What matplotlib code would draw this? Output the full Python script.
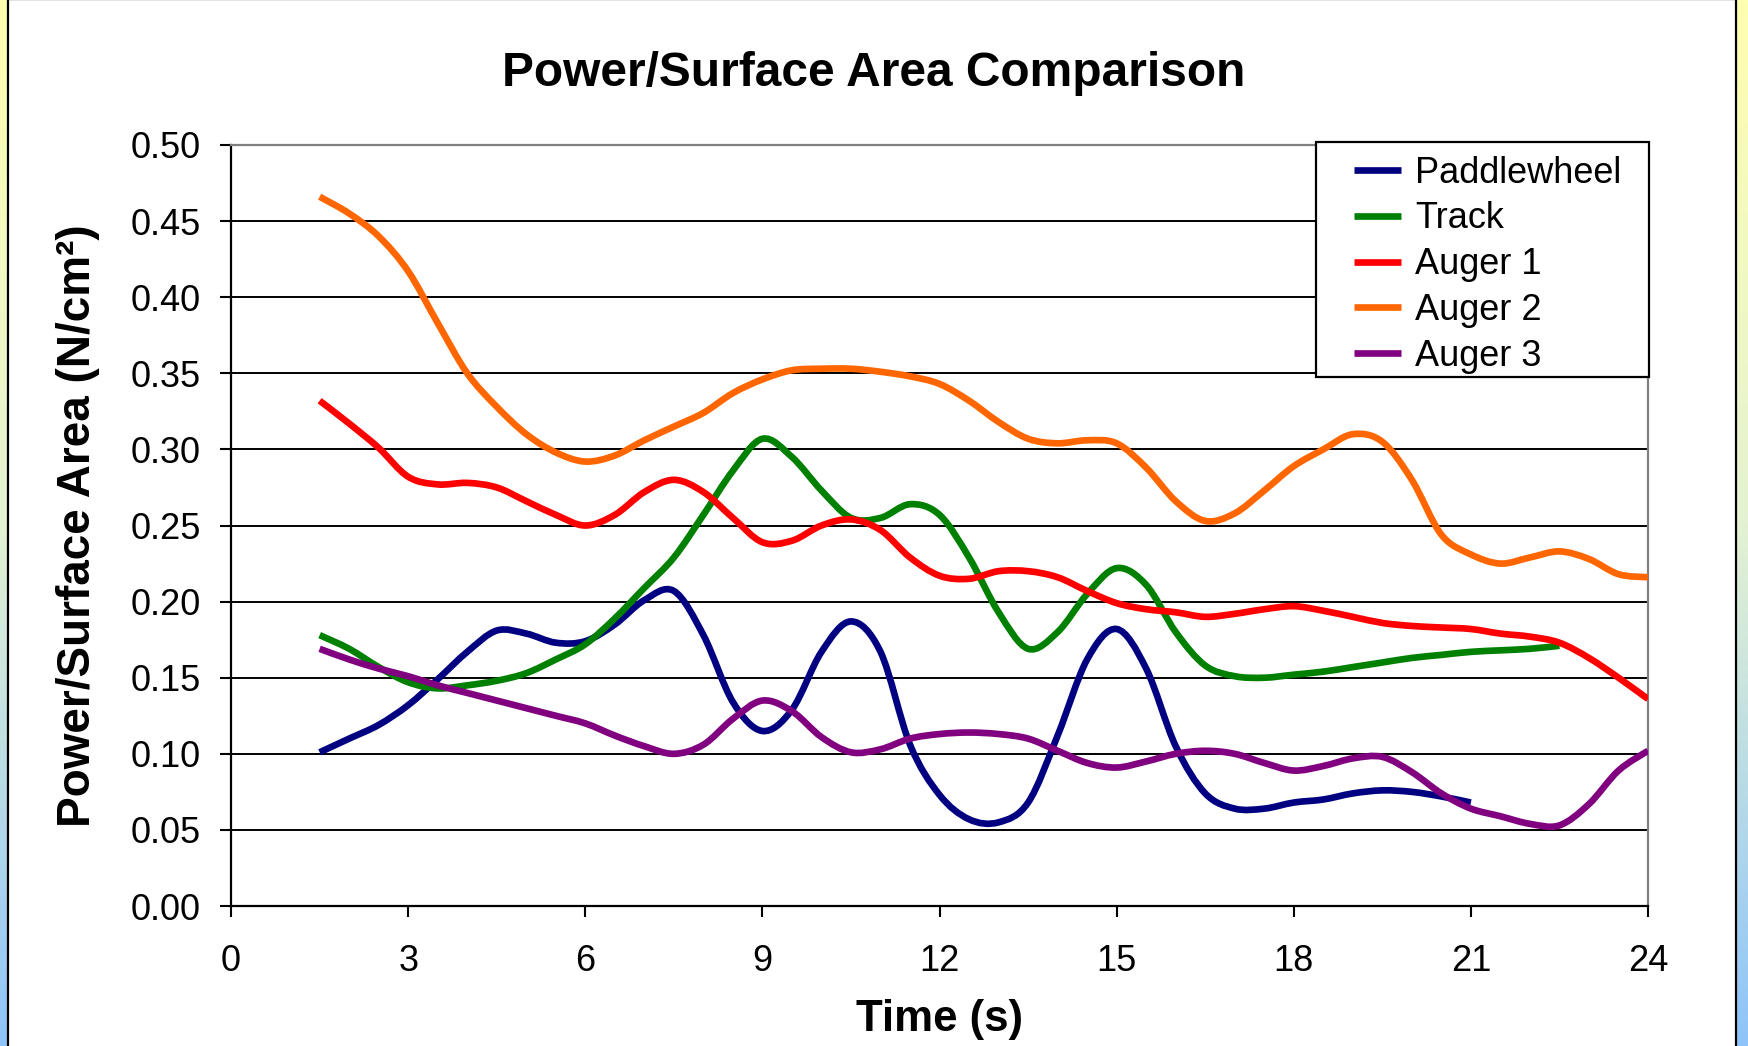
import numpy as np
import matplotlib.pyplot as plt
from matplotlib.patches import Rectangle, PathPatch
from matplotlib.path import Path
from matplotlib.lines import Line2D
from matplotlib.colors import LinearSegmentedColormap

plt.rcParams['font.family'] = ['Liberation Sans', 'DejaVu Sans']

# time samples (s)
t_half = [1.5, 2, 2.5, 3, 3.5, 4, 4.5, 5, 5.5, 6, 6.5, 7, 7.5, 8, 8.5, 9, 9.5, 10,
          10.5, 11, 11.5, 12, 12.5, 13, 13.5, 14, 14.5, 15, 15.5, 16, 16.5, 17,
          17.5, 18, 18.5, 19, 19.5, 20, 20.5, 21, 21.5, 22, 22.5, 23, 23.5, 24]

paddlewheel = [0.101, 0.110, 0.119, 0.132, 0.149, 0.167, 0.181, 0.179, 0.173, 0.174,
               0.185, 0.201, 0.207, 0.178, 0.134, 0.115, 0.129, 0.167, 0.187, 0.167,
               0.106, 0.073, 0.057, 0.055, 0.068, 0.112, 0.162, 0.182, 0.156, 0.105,
               0.074, 0.064, 0.064, 0.068, 0.070, 0.074, 0.076, 0.075, 0.072, 0.068]

track = [0.178, 0.169, 0.157, 0.147, 0.143, 0.145, 0.148, 0.153, 0.162, 0.172,
         0.189, 0.209, 0.229, 0.257, 0.286, 0.307, 0.295, 0.273, 0.255, 0.255,
         0.264, 0.257, 0.229, 0.193, 0.169, 0.180, 0.205, 0.222, 0.211, 0.180,
         0.158, 0.151, 0.150, 0.152, 0.154, 0.157, 0.160, 0.163, 0.165, 0.167,
         0.168, 0.169, 0.171]

auger1 = [0.332, 0.317, 0.301, 0.282, 0.277, 0.278, 0.275, 0.266, 0.257, 0.250,
          0.257, 0.272, 0.280, 0.272, 0.255, 0.239, 0.240, 0.250, 0.254, 0.247,
          0.229, 0.217, 0.215, 0.220, 0.220, 0.216, 0.207, 0.199, 0.195, 0.193,
          0.190, 0.192, 0.195, 0.197, 0.194, 0.190, 0.186, 0.184, 0.183, 0.182,
          0.179, 0.177, 0.173, 0.163, 0.150, 0.136]

auger2 = [0.466, 0.455, 0.440, 0.417, 0.383, 0.350, 0.328, 0.310, 0.298, 0.292,
          0.296, 0.306, 0.315, 0.324, 0.337, 0.346, 0.352, 0.353, 0.353, 0.351,
          0.348, 0.343, 0.332, 0.318, 0.307, 0.304, 0.306, 0.304, 0.288, 0.266,
          0.253, 0.258, 0.273, 0.289, 0.300, 0.310, 0.305, 0.280, 0.244, 0.231,
          0.225, 0.229, 0.233, 0.228, 0.218, 0.216]

auger3 = [0.169, 0.162, 0.156, 0.151, 0.145, 0.140, 0.135, 0.130, 0.125, 0.120,
          0.112, 0.105, 0.100, 0.106, 0.123, 0.135, 0.128, 0.111, 0.101, 0.103,
          0.110, 0.113, 0.114, 0.113, 0.110, 0.102, 0.094, 0.091, 0.095, 0.100,
          0.102, 0.100, 0.094, 0.089, 0.092, 0.097, 0.098, 0.088, 0.074, 0.064,
          0.059, 0.054, 0.053, 0.067, 0.089, 0.102]

series = [
    ('Paddlewheel', paddlewheel, '#000080'),
    ('Track', track, '#008000'),
    ('Auger 1', auger1, '#FF0000'),
    ('Auger 2', auger2, '#FF6600'),
    ('Auger 3', auger3, '#800080'),
]


def smooth_path(x, y):
    # Excel-style smoothed line: cubic Bezier segments through every point
    p = np.column_stack([x, y])
    ext = np.vstack([p[0], p, p[-1]])
    verts = [p[0]]
    codes = [Path.MOVETO]
    for i in range(len(p) - 1):
        c1 = ext[i + 1] + (ext[i + 2] - ext[i]) / 6.0
        c2 = ext[i + 2] - (ext[i + 3] - ext[i + 1]) / 6.0
        verts += [c1, c2, p[i + 1]]
        codes += [Path.CURVE4] * 3
    return Path(verts, codes)


fig = plt.figure(figsize=(17.48, 10.46), dpi=100)

# gradient frame behind the chart
bg = fig.add_axes([0, 0, 1, 1], zorder=-10)
grad = LinearSegmentedColormap.from_list('frame', ['#FFFFB0', '#E4F2D2', '#8EC4FA'])
bg.imshow(np.linspace(0, 1, 256).reshape(-1, 1), aspect='auto', cmap=grad,
          extent=[0, 1, 0, 1])
bg.set_axis_off()
bg.add_patch(Rectangle((0.0045, -0.05), 0.9888, 1.0505, transform=bg.transAxes,
                       facecolor='white', edgecolor='black', linewidth=1.6))

ax = fig.add_axes([0.1322, 0.1338, 0.8106, 0.7276])
ax.set_facecolor('white')

handles = []
for name, vals, col in series:
    path = smooth_path(t_half[:len(vals)], vals)
    ax.add_patch(PathPatch(path, facecolor='none', edgecolor=col, linewidth=4.8,
                           joinstyle='round', capstyle='butt', zorder=3))
    handles.append(Line2D([], [], color=col, linewidth=4.8, solid_capstyle='butt'))

ax.set_xlim(0, 24)
ax.set_ylim(0, 0.5)
ax.set_xticks(np.arange(0, 25, 3))
ax.set_yticks(np.arange(0, 0.501, 0.05))
ax.set_yticklabels([f'{v:.2f}' for v in np.arange(0, 0.501, 0.05)])
ax.tick_params(axis='both', labelsize=26, direction='out', length=8, width=1.5,
               color='black')
ax.tick_params(axis='y', pad=14)
ax.tick_params(axis='x', pad=19)

for y in np.arange(0.05, 0.46, 0.05):
    ax.axhline(y, color='black', linewidth=1.4, zorder=1)

ax.spines['left'].set_color('black')
ax.spines['left'].set_linewidth(1.6)
ax.spines['bottom'].set_color('black')
ax.spines['bottom'].set_linewidth(1.6)
ax.spines['top'].set_color('#808080')
ax.spines['top'].set_linewidth(1.6)
ax.spines['right'].set_color('#808080')
ax.spines['right'].set_linewidth(1.6)

# legend box drawn separately, entries placed inside it
ax.add_patch(Rectangle((0.766, 0.695), 0.2347, 0.309, transform=ax.transAxes,
                       facecolor='white', edgecolor='black', linewidth=1.6,
                       clip_on=False, zorder=5))
leg = ax.legend(handles, [s[0] for s in series], loc='upper left',
                bbox_to_anchor=(0.7925, 0.986), fontsize=26, frameon=False,
                handlelength=1.3, handletextpad=0.4, labelspacing=0.3,
                borderpad=0, borderaxespad=0)
leg.set_zorder(6)

fig.text(0.5, 0.9297, 'Power/Surface Area Comparison', ha='center', va='center',
         fontsize=34.5, fontweight='bold')
fig.text(0.5375, 0.0256, 'Time (s)', ha='center', va='center', fontsize=31.5,
         fontweight='bold')
fig.text(0.0445, 0.4976, 'Power/Surface Area (N/cm²)', ha='center', va='center',
         rotation=90, fontsize=33, fontweight='bold')

fig.savefig('out.png', dpi=100)
